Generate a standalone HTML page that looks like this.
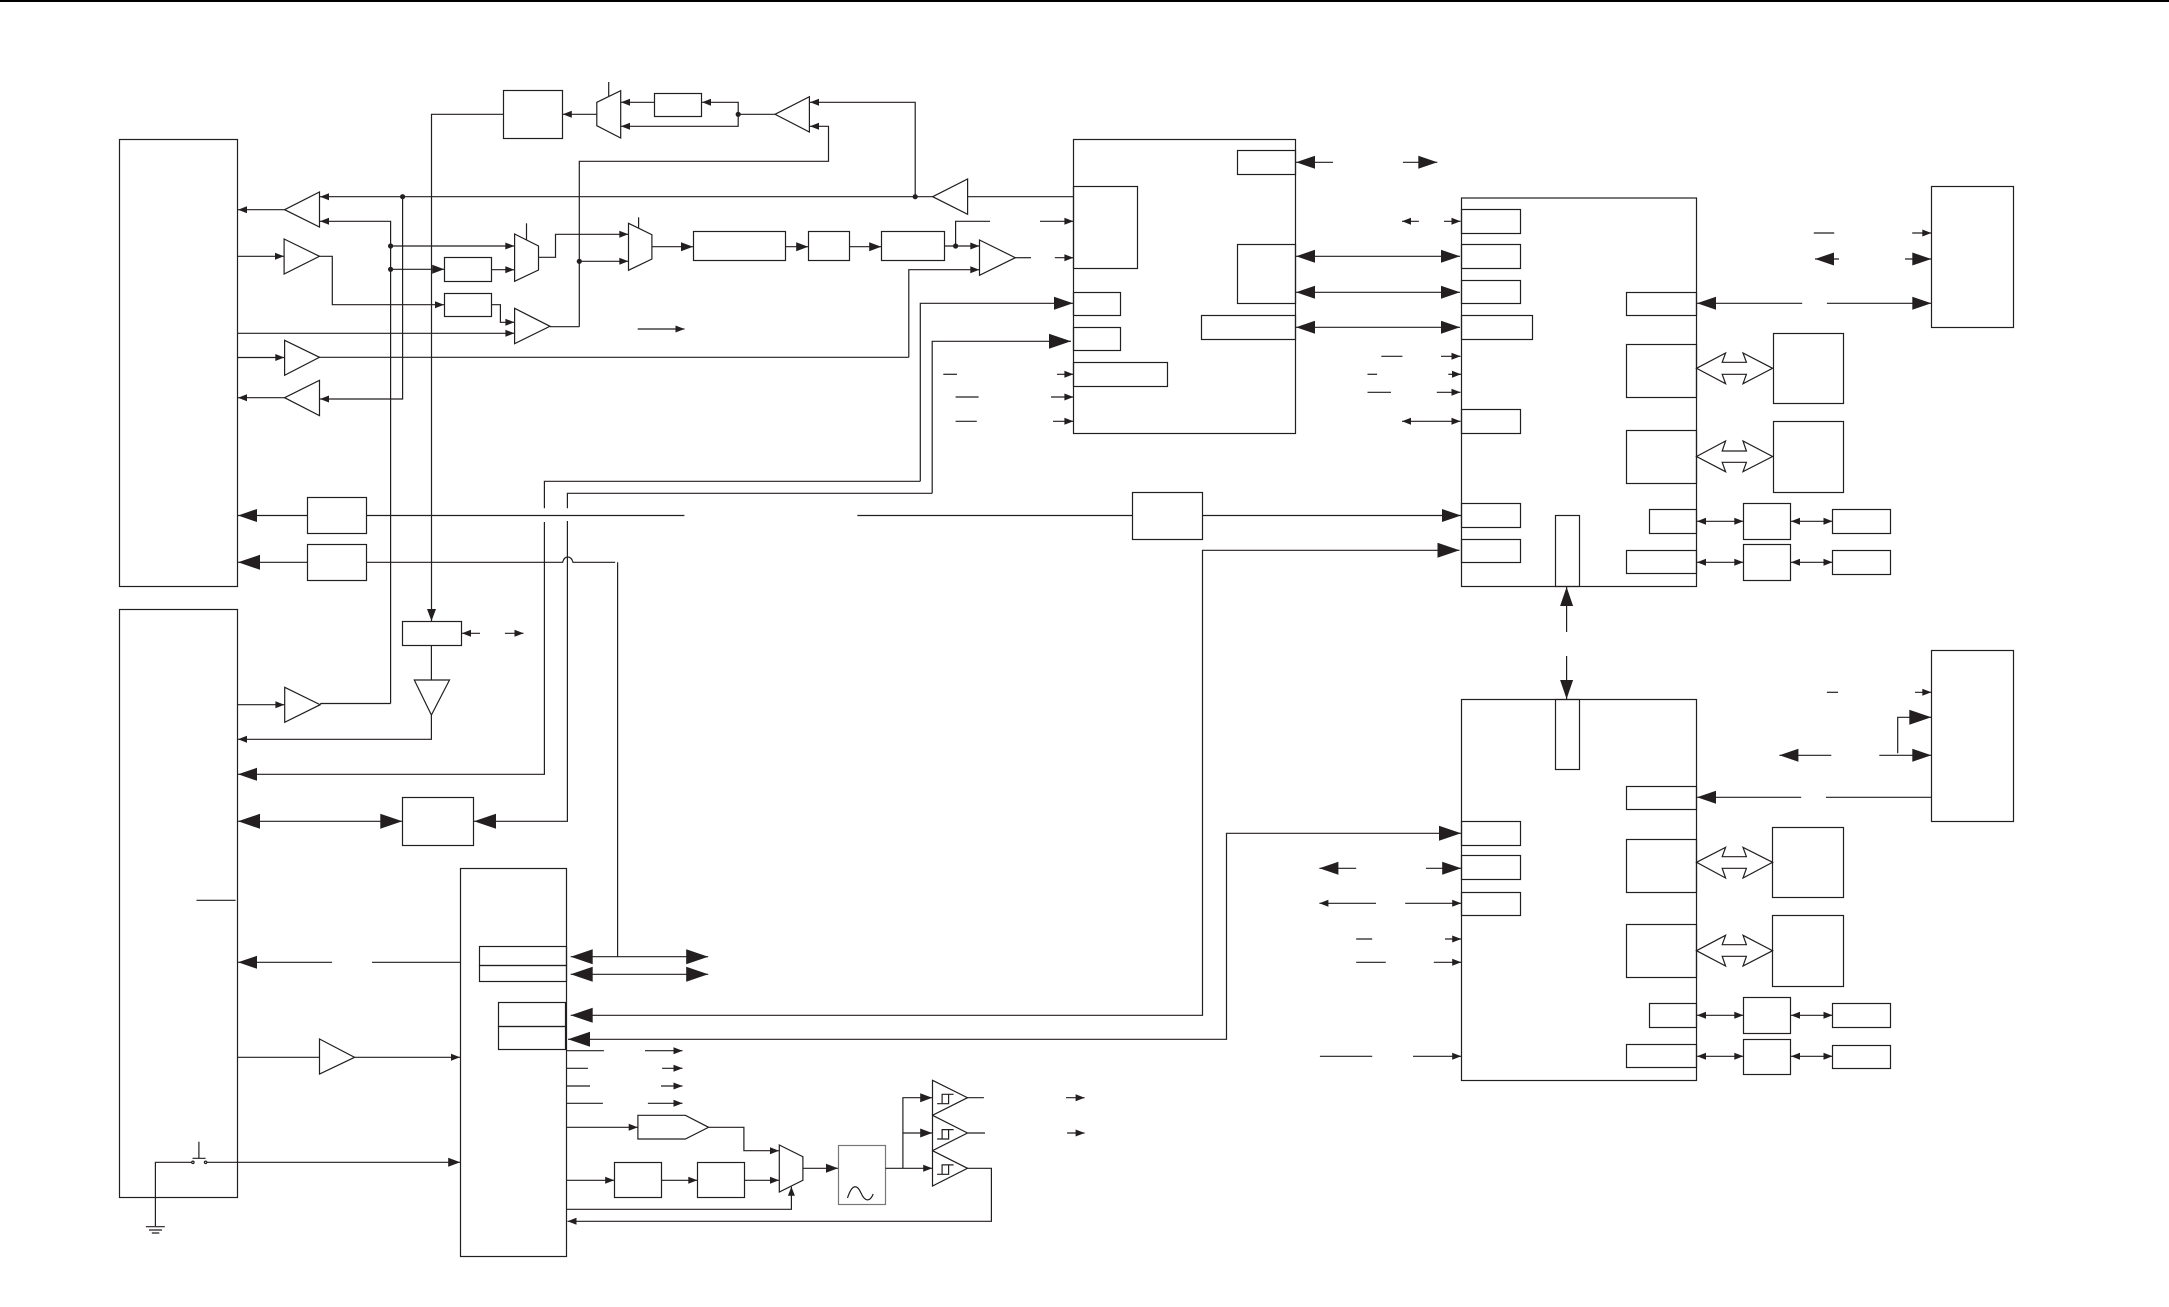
<!DOCTYPE html>
<html><head><meta charset="utf-8"><title>Block diagram</title>
<style>
html,body{margin:0;padding:0;background:#fff;width:2169px;height:1307px;overflow:hidden}
svg{display:block}
path,rect,polygon,circle{fill:none;stroke:#231f20;stroke-width:1.2}
.s{marker-end:url(#s)}.m{marker-end:url(#m)}.b{marker-end:url(#b)}.x{marker-end:url(#x)}
.ss{marker-start:url(#s)}.bs{marker-start:url(#b)}.xs{marker-start:url(#x)}
.d{fill:#231f20;stroke:none}
</style></head><body>
<svg width="2169" height="1307" viewBox="0 0 2169 1307" xmlns="http://www.w3.org/2000/svg">
<defs>
<marker id="s" markerUnits="userSpaceOnUse" markerWidth="10" markerHeight="8" refX="9" refY="3.5" orient="auto-start-reverse" overflow="visible"><path d="M0 0L9 3.5L0 7Z" style="fill:#231f20;stroke:none"/></marker>
<marker id="m" markerUnits="userSpaceOnUse" markerWidth="14" markerHeight="10" refX="12" refY="4.5" orient="auto-start-reverse" overflow="visible"><path d="M0 0L12 4.5L0 9Z" style="fill:#231f20;stroke:none"/></marker>
<marker id="b" markerUnits="userSpaceOnUse" markerWidth="20" markerHeight="14" refX="19" refY="6.5" orient="auto-start-reverse" overflow="visible"><path d="M0 0L19 6.5L0 13Z" style="fill:#231f20;stroke:none"/></marker>
<marker id="x" markerUnits="userSpaceOnUse" markerWidth="23" markerHeight="16" refX="22" refY="7.5" orient="auto-start-reverse" overflow="visible"><path d="M0 0L22 7.5L0 15Z" style="fill:#231f20;stroke:none"/></marker>
</defs>

<rect x="0" y="0" width="2169" height="2" style="fill:#000;stroke:none"/>

<!-- main boxes -->
<rect x="119.5" y="139.5" width="118" height="447"/>
<rect x="119.5" y="609.5" width="118" height="588"/>
<rect x="1073.5" y="139.5" width="222" height="294"/>
<rect x="1461.5" y="198" width="235" height="388.5"/>
<rect x="1461.5" y="699.5" width="235" height="381"/>
<rect x="460.5" y="868.5" width="106" height="388"/>
<rect x="1931.5" y="186.5" width="82" height="141"/>
<rect x="1931.5" y="650.5" width="82" height="171"/>

<!-- top row -->
<rect x="503.5" y="90.5" width="59" height="48"/>
<rect x="654.5" y="93.5" width="47" height="23"/>
<polygon points="596.8,102.3 620.7,90.7 620.7,138 596.8,125.7"/>
<path d="M608.7 82V96"/>
<path class="s" d="M596.8 114.3H562.8"/>
<path class="s" d="M654.2 102.3H621"/>
<path class="s" d="M738.2 114.3V102.3H702"/>
<path class="s" d="M738.2 114.3V126.3H621"/>
<path d="M738.2 114.3H775"/>
<polygon points="775,114.3 809.4,96.7 809.4,132"/>
<path class="s" d="M915.2 196.7V102.3H810"/>
<path class="s" d="M579.3 326.7V161.3H828.5V126.3H810"/>
<path class="s" d="M932.7 196.7H320"/>
<polygon points="932.7,196.7 967.6,179 967.6,214.3"/>
<path d="M967.6 196.7H1073.6"/>

<!-- left amps -->
<polygon points="284.6,209.7 319.5,192 319.5,227"/>
<path class="s" d="M284.6 209.7H238"/>
<path class="s" d="M390.6 703.5V221.3H320"/>
<path d="M390.6 703.5H320.2"/>
<polygon points="284.1,239 319.5,256.3 284.1,274"/>
<path class="s" d="M237.7 256.3H284"/>
<path class="s" d="M319.5 256.3H332.3V304.7H444"/>
<polygon points="284.6,340.3 319.5,357.3 284.6,375.3"/>
<path class="s" d="M237.7 357.5H284.3"/>
<path d="M319.5 357.3H908.8"/>
<polygon points="284.6,397.7 319.5,380.3 319.5,415.7"/>
<path class="s" d="M284.6 397.7H238"/>
<path class="s" d="M402.6 196.7V399H320"/>
<path class="s" d="M390.6 246H514.3"/>
<path class="m" d="M390.6 269.3H444.2"/>
<rect x="444.5" y="257.5" width="47" height="24"/>
<rect x="444.5" y="293.5" width="47" height="23"/>
<path class="s" d="M491.6 269.7H514.3"/>
<polygon points="514.6,234 538.5,246 538.5,270 514.6,281.3"/>
<path d="M526.5 223.3V240"/>
<path class="s" d="M538.5 257.3H555.5V234.3H628.3"/>
<polygon points="628.5,223.3 651.9,234.7 651.9,259 628.5,270.3"/>
<path d="M638.6 217.3V227.7"/>
<path class="s" d="M579.3 261.3H628.3"/>
<path class="m" d="M651.9 246.7H693"/>
<rect x="693.5" y="231.5" width="92" height="29"/>
<rect x="808.5" y="231.5" width="41" height="29"/>
<rect x="881.5" y="231.5" width="63" height="29"/>
<path class="m" d="M785.5 246.7H808.2"/>
<path class="m" d="M849.6 246.7H881.2"/>
<path class="s" d="M944.2 246H979.3"/>
<polygon points="979.5,240 1015.3,257.7 979.5,275.3"/>
<path class="s" d="M908.8 357.3V269.7H979.3"/>
<path d="M1015.3 257.7H1031"/>
<path class="s" d="M1054.8 257.7H1073.4"/>
<path d="M955.6 246V221.3H990"/>
<path class="s" d="M1040 221.3H1073.4"/>
<polygon points="514.6,308.3 550,326.3 514.6,343.7"/>
<path class="s" d="M491.6 304.7H500.4V322.3H514.4"/>
<path class="s" d="M237.7 333.3H514.4"/>
<path d="M550 326.7H579.3"/>
<path class="s" d="M637.7 329H684.5"/>

<!-- dots -->
<circle class="d" cx="738.2" cy="114.3" r="2.6"/>
<circle class="d" cx="402.6" cy="196.7" r="2.6"/>
<circle class="d" cx="915.2" cy="196.7" r="2.6"/>
<circle class="d" cx="390.6" cy="246" r="2.6"/>
<circle class="d" cx="390.6" cy="269.3" r="2.6"/>
<circle class="d" cx="579.3" cy="261.3" r="2.6"/>
<circle class="d" cx="955.6" cy="246" r="2.6"/>

<!-- C block internals -->
<rect x="1073.5" y="186.5" width="64" height="82"/>
<rect x="1237.5" y="150.5" width="58" height="24"/>
<rect x="1237.5" y="244.5" width="58" height="59"/>
<rect x="1201.5" y="315.5" width="94" height="24"/>
<rect x="1073.5" y="292.5" width="47" height="23"/>
<rect x="1073.5" y="327.5" width="47" height="23"/>
<rect x="1073.5" y="362.5" width="94" height="24"/>

<path d="M544.4 508.3V481.3H920.3"/>
<path class="b" d="M920.3 481.3V303.3H1073"/>
<path d="M567.4 508.3V493.3H932.2"/>
<path class="x" d="M932.2 493.3V341.3H1071"/>
<path class="b" d="M544.4 522V774.3H238"/>
<path class="x" d="M567.4 521V821.3H474"/>
<rect x="402.5" y="797.5" width="71" height="48"/>
<path class="x xs" d="M238 821.3H402.3"/>

<path d="M943.3 374.3H957"/><path class="s" d="M1057 374.3H1073.4"/>
<path d="M955.6 397H978.6"/><path class="s" d="M1051 397H1073.4"/>
<path d="M955.6 421.3H976.8"/><path class="s" d="M1053 421.3H1073.4"/>

<path class="b" d="M1333 162.3H1296"/>
<path class="b" d="M1402.9 162.3H1437.3"/>
<path class="b bs" d="M1296 256.3H1460"/>
<path class="b bs" d="M1296 292.3H1460"/>
<path class="b bs" d="M1296 327.3H1460"/>
<path class="s" d="M1418.9 221.3H1402"/>
<path class="s" d="M1444 221.3H1460.5"/>
<path d="M1381.3 356.3H1402.4"/><path class="s" d="M1441 356.3H1460.5"/>
<path d="M1367.5 374.3H1377.1"/><path class="s" d="M1448.3 374.3H1461"/>
<path d="M1367.5 392.3H1391"/><path class="s" d="M1436.8 392.3H1460.5"/>
<path class="s ss" d="M1402 421.3H1460.5"/>

<!-- E block -->
<rect x="1461.5" y="209.5" width="59" height="24"/>
<rect x="1461.5" y="244.5" width="59" height="24"/>
<rect x="1461.5" y="280.5" width="59" height="23"/>
<rect x="1461.5" y="315.5" width="71" height="24"/>
<rect x="1461.5" y="409.5" width="59" height="24"/>
<rect x="1461.5" y="503.5" width="59" height="24"/>
<rect x="1461.5" y="539.5" width="59" height="23"/>
<rect x="1555.5" y="515.5" width="24" height="71"/>
<rect x="1626.5" y="292.5" width="70" height="23"/>
<rect x="1626.5" y="344.5" width="70" height="53"/>
<rect x="1626.5" y="430.5" width="70" height="53"/>
<rect x="1649.5" y="509.5" width="47" height="24"/>
<rect x="1626.5" y="550.5" width="70" height="23"/>
<rect x="1773.5" y="333.5" width="70" height="70"/>
<rect x="1773.5" y="421.5" width="70" height="71"/>
<rect x="1743.5" y="503.5" width="47" height="36"/>
<rect x="1743.5" y="544.5" width="47" height="36"/>
<rect x="1832.5" y="509.5" width="58" height="24"/>
<rect x="1832.5" y="550.5" width="58" height="24"/>
<polygon points="1696.5,368.3 1725.6,353 1722.2,362.3 1746.4,362.3 1743,353 1772.6,368.3 1743,383.7 1746.4,374.3 1722.2,374.3 1725.6,383.7"/>
<polygon points="1696.5,456.5 1725.6,441 1722.2,451 1746.4,451 1743,441 1772.6,456.5 1743,471.7 1746.4,462.3 1722.2,462.3 1725.6,471.7"/>
<path class="s ss" d="M1697 521.3H1743.3"/>
<path class="s ss" d="M1791 521.3H1832.5"/>
<path class="s ss" d="M1697 562.3H1743.3"/>
<path class="s ss" d="M1791 562.3H1832.5"/>
<path class="b" d="M1802.2 303.3H1697"/>
<path class="b" d="M1826.9 303.3H1931.3"/>
<path d="M1813.8 233H1834.2"/><path class="s" d="M1912.2 233H1931.3"/>
<path class="b" d="M1839 259H1815"/>
<path class="b" d="M1905 259H1931.3"/>

<!-- arrows between E and F -->
<path class="b" d="M1566.6 632V587"/>
<path class="b" d="M1566.6 656V699"/>

<!-- F block -->
<rect x="1555.5" y="699.5" width="24" height="70"/>
<rect x="1626.5" y="786.5" width="70" height="23"/>
<rect x="1626.5" y="839.5" width="70" height="53"/>
<rect x="1626.5" y="924.5" width="70" height="53"/>
<rect x="1649.5" y="1003.5" width="47" height="24"/>
<rect x="1626.5" y="1044.5" width="70" height="23"/>
<rect x="1461.5" y="821.5" width="59" height="24"/>
<rect x="1461.5" y="855.5" width="59" height="24"/>
<rect x="1461.5" y="892.5" width="59" height="23"/>
<rect x="1772.5" y="827.5" width="71" height="70"/>
<rect x="1772.5" y="915.5" width="71" height="71"/>
<rect x="1743.5" y="997.5" width="47" height="36"/>
<rect x="1743.5" y="1039.5" width="47" height="35"/>
<rect x="1832.5" y="1003.5" width="58" height="24"/>
<rect x="1832.5" y="1045.5" width="58" height="23"/>
<polygon points="1696.5,862.3 1725.6,847.3 1722.2,856.7 1746.4,856.7 1743,847.3 1772.6,862.3 1743,878 1746.4,868.3 1722.2,868.3 1725.6,878"/>
<polygon points="1696.5,950.7 1725.6,935.3 1722.2,944.7 1746.4,944.7 1743,935.3 1772.6,950.7 1743,966 1746.4,956.3 1722.2,956.3 1725.6,966"/>
<path class="s ss" d="M1697 1015.3H1743.3"/>
<path class="s ss" d="M1791 1015.3H1832.5"/>
<path class="s ss" d="M1697 1056.3H1743.3"/>
<path class="s ss" d="M1791 1056.3H1832.5"/>
<path class="b" d="M1801.2 797.3H1697"/>
<path d="M1826 797.3H1931.6"/>
<path d="M1826.9 692.3H1838"/><path class="s" d="M1915 692.3H1931.3"/>
<path class="b" d="M1831.3 755.3H1779.4"/>
<path class="b" d="M1879.3 755.3H1931.3"/>
<path class="x" d="M1897.7 753.3V717.3H1931.3"/>
<path class="b" d="M1356.2 868.3H1319.4"/>
<path class="b" d="M1426 868.3H1461.2"/>
<path class="s" d="M1376 903.3H1319.4"/>
<path class="s" d="M1405.2 903.3H1461.2"/>
<path d="M1356.2 939H1372.2"/><path class="s" d="M1445 939H1461.2"/>
<path d="M1356.2 962.3H1385.8"/><path class="s" d="M1433.8 962.3H1461.2"/>
<path d="M1319.9 1056.3H1372.2"/><path class="s" d="M1413 1056.3H1461.2"/>

<!-- middle long runs -->
<rect x="1132.5" y="492.5" width="70" height="47"/>
<path d="M857.4 515.5H1132.4"/>
<path class="b" d="M1202.7 515.5H1461"/>
<rect x="307.5" y="497.5" width="59" height="36"/>
<rect x="307.5" y="544.5" width="59" height="36"/>
<path d="M366.5 515.5H684.4"/>
<path class="b" d="M307.6 515.5H238"/>
<path class="x" d="M307.6 562.3H238"/>
<path d="M366.5 562.3H562.6Q564 557 567.8 557Q571.5 557 573 562.3H615.2"/>
<path d="M617.6 562.3V956.7"/>
<path class="m" d="M503.6 114.3H431.5V621"/>
<rect x="402.5" y="621.5" width="59" height="24"/>
<path d="M431.4 645.3V680"/>
<polygon points="414.3,680 449.5,680 431.4,715"/>
<path class="s" d="M431.4 715V739.3H238"/>
<path class="s" d="M480 633.3H462"/>
<path class="s" d="M504.9 633.3H523.5"/>
<polygon points="284.7,687.3 320.2,704.7 284.7,722.3"/>
<path class="s" d="M237.6 704.7H284.4"/>

<!-- H block -->
<rect x="479.5" y="946.5" width="87" height="19"/>
<rect x="479.5" y="965.5" width="87" height="16"/>
<rect x="498.5" y="1002.5" width="67" height="24"/>
<rect x="498.5" y="1026.5" width="67" height="23"/>
<path d="M196.5 900.3H235.6"/>
<path class="b" d="M332.1 962.3H238"/>
<path d="M372 962.3H460.2"/>
<path d="M237.6 1057.3H319.5"/>
<polygon points="319.5,1039 354.6,1057.3 319.5,1074"/>
<path class="s" d="M354.6 1057.3H460"/>
<path d="M155.4 1226V1162.3H191.7"/>
<circle cx="192.9" cy="1162.3" r="1.2"/><circle cx="205.6" cy="1162.3" r="1.2"/>
<path d="M192.5 1158.3H205.6M198.9 1141.7V1158.3"/>
<path class="m" d="M206.8 1162.3H460.2"/>
<path d="M145.9 1226.7H164.8M149 1230H162M151.8 1233H159.3"/>

<path class="x xs" d="M570.7 956.7H708.2"/>
<path class="x xs" d="M570.7 974.3H708.2"/>
<path class="x" d="M1459.5 550.3H1202.5V1015.3H570.7" style="marker-end:url(#x);marker-start:url(#x)"/>
<path class="x" d="M568 1039.3H1226.5V833.3H1461" style="marker-start:url(#x)"/>

<path d="M566.6 1050.7H603.9"/><path class="s" d="M645 1050.7H682.5"/>
<path d="M566.6 1068.3H587.9"/><path class="s" d="M662.1 1068.3H682.5"/>
<path d="M566.6 1086H590"/><path class="s" d="M661 1086H682.5"/>
<path d="M566.6 1103.3H602.9"/><path class="s" d="M647.9 1103.3H682.5"/>
<polygon points="637.9,1115.3 685.4,1115.3 708.6,1127.3 685.4,1139 637.9,1139"/>
<path class="s" d="M566.6 1127.3H637.7"/>
<path class="s" d="M708.6 1127.3H743.9V1150.7H779"/>
<rect x="614.5" y="1162.5" width="47" height="35"/>
<rect x="697.5" y="1162.5" width="47" height="35"/>
<path class="s" d="M566.6 1180.3H614.2"/>
<path class="s" d="M661.8 1180.3H697.3"/>
<path class="s" d="M744.6 1180.3H779"/>
<polygon points="779.3,1145 802.9,1156.7 802.9,1180.3 779.3,1192"/>
<path class="s" d="M566.6 1209.3H791.4V1186.7"/>
<path class="m" d="M802.9 1168.3H838"/>
<rect x="838.5" y="1145.5" width="47" height="59" style="stroke:#777"/>
<path d="M847.5 1198C852 1184 857 1184 861 1193C865 1202 870 1202 873.2 1194"/>
<path class="s" d="M885.4 1168.3H932.2"/>
<path class="m" d="M902.9 1168.3V1097.7H932.2"/>
<path class="m" d="M902.9 1133H932.2"/>
<polygon points="932.5,1080.3 967.5,1097.7 932.5,1115.3"/>
<polygon points="932.5,1115.3 967.5,1133 932.5,1150.7"/>
<polygon points="932.5,1150.7 967.5,1168.3 932.5,1186"/>
<path d="M937.1 1103.7H948.6V1094.3M942.1 1103.7V1094.3H953.6"/>
<path d="M937.1 1139H948.6V1129.6M942.1 1139V1129.6H953.6"/>
<path d="M937.1 1174.3H948.6V1164.9M942.1 1174.3V1164.9H953.6"/>
<path d="M967.5 1097.7H983.9"/><path class="s" d="M1066 1097.7H1084.6"/>
<path d="M967.5 1133H985"/><path class="s" d="M1067.1 1133H1084.6"/>
<path class="s" d="M967.5 1168.3H991.4V1221.3H567.5"/>
</svg>
</body></html>
